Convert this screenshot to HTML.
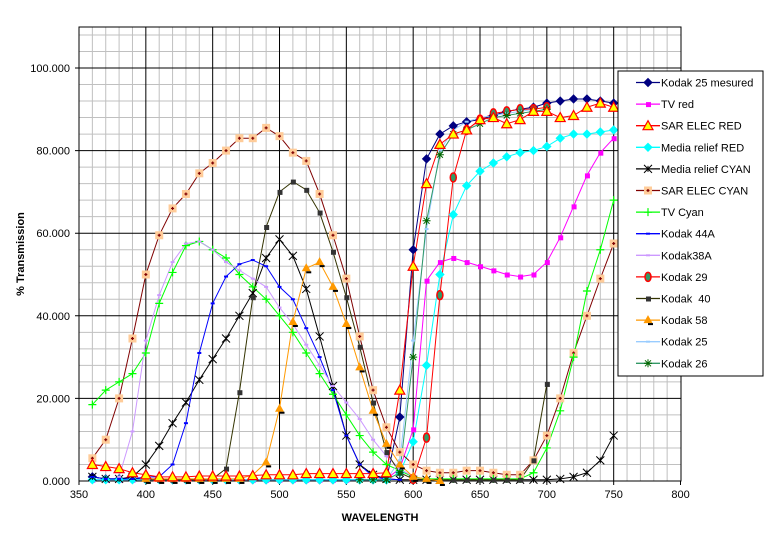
<!DOCTYPE html>
<html><head><meta charset="utf-8"><style>
html,body{margin:0;padding:0;background:#fff;}
svg{display:block;font-family:"Liberation Sans",Arial,sans-serif;}
</style></head><body>
<svg id="s" width="772" height="537" xmlns="http://www.w3.org/2000/svg"></svg>
<script>
const S=document.getElementById('s');
const NS='http://www.w3.org/2000/svg';
function el(t,a,txt){const e=document.createElementNS(NS,t);for(const k in a)e.setAttribute(k,a[k]);if(txt!=null)e.textContent=txt;S.appendChild(e);return e;}
const X=w=>79+(w-350)*1.3367, Y=v=>481-v*4.13;
el('rect',{x:0,y:0,width:772,height:537,fill:'#fff'});
for(let w=360;w<800;w+=10){if(w%50)el('line',{x1:X(w),x2:X(w),y1:27,y2:481,stroke:'#c0c0c0','stroke-width':1});}
for(let v=4;v<110;v+=4){if(v%20)el('line',{x1:79,x2:681,y1:Y(v),y2:Y(v),stroke:'#c0c0c0','stroke-width':1});}
for(let w=400;w<800;w+=50)el('line',{x1:X(w),x2:X(w),y1:27,y2:481,stroke:'#000','stroke-width':1});
for(let v=20;v<=100;v+=20)el('line',{x1:75,x2:681,y1:Y(v),y2:Y(v),stroke:'#000','stroke-width':1});
el('rect',{x:79,y:27,width:602,height:454,fill:'none',stroke:'#000','stroke-width':1});
for(let w=350;w<=800;w+=50){el('line',{x1:X(w),x2:X(w),y1:481,y2:485,stroke:'#000'});el('text',{x:X(w),y:498,'font-size':11,'text-anchor':'middle'},w);}
for(let v=0;v<=100;v+=20){el('text',{x:70,y:Y(v)+4,'font-size':11,'text-anchor':'end'},v.toFixed(3));}
el('text',{x:380,y:521,'font-size':11,'font-weight':'bold','text-anchor':'middle'},'WAVELENGTH');
el('text',{x:0,y:0,'font-size':11,'font-weight':'bold','text-anchor':'middle',transform:'translate(24,254) rotate(-90)'},'% Transmission');
function ser(start,vals){return vals.map((v,i)=>[start+i*10,v]);}
const series=[
{n:'Kodak 25 mesured',c:'#000080',m:'diam',mf:'#000080',d:ser(360,[1,0.5,0.5,0.5,0.5,0.5,0.3,0.3,0.3,0.3,0.3,0.3,0.3,0.3,0.3,0.3,0.3,0.3,0.3,0.3,0.3,0.3,0.3,15.5,56,78,84,86,87,87.5,88.5,89.5,90,90.5,91.5,92,92.5,92.5,92,91.5,91.5])},
{n:'TV red',c:'#ff00ff',m:'sq',mf:'#ff00ff',d:ser(360,[0.3,0.3,0.3,0.3,0.3,0.3,0.3,0.3,0.3,0.3,0.3,0.3,0.3,0.3,0.3,0.3,0.3,0.3,0.3,0.3,0.3,0.3,0.5,3,12.5,48.5,53,54,53,52,51,50,49.5,50,53,59,66.5,74,79.5,83])},
{n:'Media relief RED',c:'#00ffff',m:'diam',mf:'#00ffff',d:ser(360,[0.3,0.3,0.3,0.3,0.3,0.3,0.3,0.3,0.3,0.3,0.3,0.3,0.3,0.3,0.3,0.3,0.3,0.3,0.3,0.3,0.3,0.3,0.3,2,9.5,28,50,64.5,71.5,75,77,78.5,79.5,80,81,83,84,84,84.5,85])},
{n:'Media relief CYAN',c:'#000000',m:'x',mf:'#000',d:ser(360,[1,0.5,0.5,1,4,8.5,14,19,24.5,29.5,34.5,40,45.5,54,58.5,54.5,46.5,35,23,11,4,1.5,0.5,0.3,0.3,0.3,0.3,0.3,0.3,0.3,0.3,0.3,0.3,0.3,0.3,0.5,1,2,5,11])},
{n:'SAR ELEC CYAN',c:'#800000',m:'pch',mf:'#ffcc99',d:ser(360,[5.5,10,20,34.5,50,59.5,66,69.5,74.5,77,80,83,83,85.5,83.5,79.5,77.5,69.5,59.5,49,35,22,13,7,4,2.5,2,2,2.5,2.5,2,1.5,1.5,5,11,20,31,40,49,57.5])},
{n:'TV Cyan',c:'#00ff00',m:'plus',mf:'#00ff00',d:ser(360,[18.5,22,24,26,31,43,50.5,57,58,56,54,50,47,44,40,36,31,26,21,16,11,7,4,2.5,1,0.5,0.5,0.5,0.5,0.5,0.5,0.5,0.5,2,8,17,30,46,56,68])},
{n:'Kodak 44A',c:'#0000ff',m:'dash',mf:'#0000ff',d:ser(360,[1,0.5,0.5,0.5,1,1,4,14,31,43,49.5,52.5,53.5,52,47,44,37,30,22,11,4,1,0.5,0.3])},
{n:'Kodak38A',c:'#cc99ff',m:'dash',mf:'#cc99ff',d:ser(380,[1,12,34,45,53,57.5,58,56,53,51,49,47,42,38,33,28,23,19,15,10,6,3,1])},
{n:'Kodak 29',c:'#ff0000',m:'circ',mf:'#339966',d:ser(600,[0.5,10.5,45,73.5,85,87.5,89,89.5,90,90,90.5])},
{n:'Kodak  40',c:'#333300',m:'sq',mf:'#333333',d:ser(400,[0.3,0.3,0.3,0.3,0.3,0.5,3,21.5,44.5,61.5,70,72.5,70.5,65,55.5,44.5,32.5,19,7,2,0.5,0.3,0.3,0.3,0.3,0.3,0.3,0.3,0.3,5,23.5])},
{n:'Kodak 58',c:'#ff9900',m:'tri',mf:'#ff9900',d:ser(400,[0.5,0.5,0.5,0.5,0.5,0.5,0.5,0.5,1.5,4.5,17.5,38.5,51.5,53,47,38,27.5,17,9,4,1,0.5,0])},
{n:'Kodak 25',c:'#99ccff',m:'dash',mf:'#99ccff',d:ser(560,[0.3,0.3,0.3,5,34,61,80,85,87,88,88.5,89,89.5,90])},
{n:'Kodak 26',c:'#339966',m:'ast',mf:'#006600',d:ser(560,[0.3,0.3,0.3,2,30,63,79,84,85,86.5,88,88.5,89,89.5,90])},
{n:'SAR ELEC RED',c:'#ff0000',m:'tri2',mf:'#ffff00',d:ser(360,[4,3.5,3,2,1.5,1,1,1,1.2,1.2,1.2,1.2,1.3,1.5,1.5,1.5,1.8,1.8,1.8,1.8,1.8,1.8,2,22,52,72,81.5,84,85,87.5,88,86.5,87.5,89.5,89.5,88,88.5,90.5,91.5,90.5])},
];
function marker(m,x,y,c,f){
 if(m==='diam')el('polygon',{points:`${x},${y-4} ${x+4},${y} ${x},${y+4} ${x-4},${y}`,fill:f,stroke:c});
 else if(m==='sq')el('rect',{x:x-2,y:y-2,width:5,height:5,fill:f});
 else if(m==='pch'){el('rect',{x:x-4,y:y-4,width:8,height:8,fill:f});el('path',{d:`M${x-1.5} ${y}h3M${x} ${y-1.5}v3`,stroke:c,'stroke-width':1.2});}
 else if(m==='x')el('path',{d:`M${x-4} ${y-4}l8 8M${x+4} ${y-4}l-8 8M${x} ${y-3}v6`,stroke:c,'stroke-width':1});
 else if(m==='plus')el('path',{d:`M${x-4} ${y}h8M${x} ${y-4}v8`,stroke:f,'stroke-width':1.2});
 else if(m==='dash')el('rect',{x:x-2,y:y-1,width:4,height:2,fill:f});
 else if(m==='circ')el('ellipse',{cx:x,cy:y,rx:3,ry:4.5,fill:f,stroke:c,'stroke-width':1.5});
 else if(m==='tri'){el('polygon',{points:`${x},${y-5} ${x+4.5},${y+3} ${x-4.5},${y+3}`,fill:f});el('rect',{x:x,y:y+3,width:5,height:2,fill:'#000'});}
 else if(m==='tri2')el('polygon',{points:`${x},${y-5} ${x+5},${y+4} ${x-5},${y+4}`,fill:f,stroke:c,'stroke-width':1.2});
 else if(m==='ast')el('path',{d:`M${x-3} ${y-3}l6 6M${x+3} ${y-3}l-6 6M${x} ${y-4}v8M${x-4} ${y}h8`,stroke:f,'stroke-width':1});
}
for(const s of series){
 el('polyline',{points:s.d.map(p=>X(p[0])+','+Y(p[1])).join(' '),fill:'none',stroke:s.c,'stroke-width':1});
}
for(const s of series){for(const p of s.d)marker(s.m,X(p[0]),Y(p[1]),s.c,s.mf);}
el('rect',{x:618,y:71,width:145,height:305,fill:'#fff',stroke:'#000','stroke-width':1});
const order=['Kodak 25 mesured','TV red','SAR ELEC RED','Media relief RED','Media relief CYAN','SAR ELEC CYAN','TV Cyan','Kodak 44A','Kodak38A','Kodak 29','Kodak  40','Kodak 58','Kodak 25','Kodak 26'];
order.forEach((n,i)=>{const s=series.find(z=>z.n===n);const y=82.5+i*21.6;
 el('line',{x1:636,x2:660,y1:y,y2:y,stroke:s.c,'stroke-width':1.3});
 marker(s.m,648,y,s.c,s.mf);
 el('text',{x:661,y:y+4,'font-size':11},n).setAttribute('style','white-space:pre');
});
</script>
</body></html>
